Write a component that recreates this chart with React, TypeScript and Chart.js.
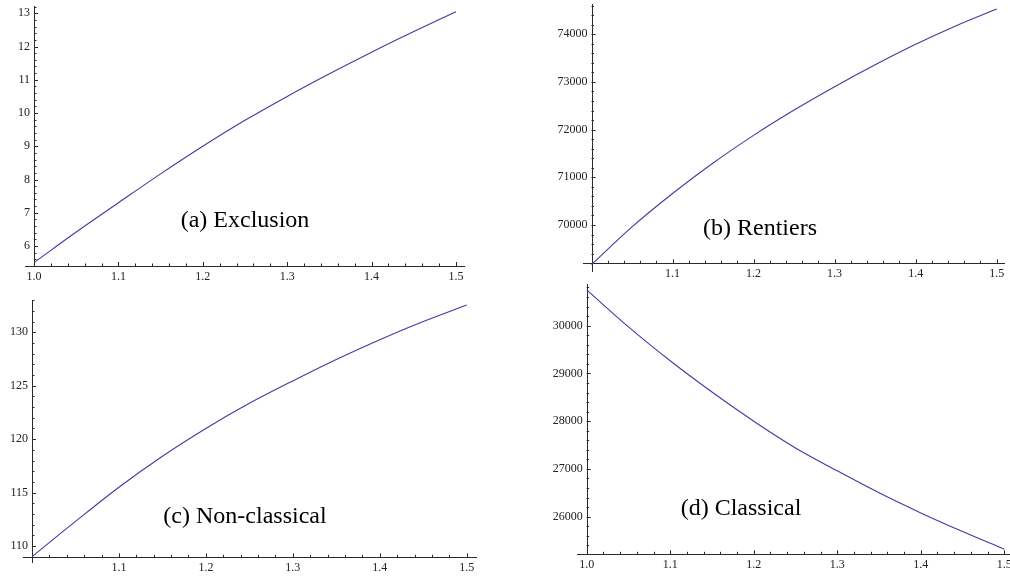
import React, { useEffect, useRef } from "react";
import { Chart, registerables } from "chart.js";

Chart.register(...registerables);

// ---- data ----
const xValues = [1.0, 1.05, 1.1, 1.15, 1.2, 1.25, 1.3, 1.35, 1.4, 1.45, 1.5];
const exclusion = [5.5, 6.42, 7.3, 8.17, 9.0, 9.78, 10.5, 11.18, 11.83, 12.45, 13.05];
const rentiers = [69170, 69960, 70660, 71300, 71880, 72410, 72900, 73360, 73790, 74180, 74530];
const nonClassical = [109.0, 112.3, 115.5, 118.4, 121.0, 123.35, 125.45, 127.45, 129.3, 131.0, 132.55];
const classical = [30750, 29975, 29265, 28610, 28000, 27440, 26960, 26500, 26080, 25690, 25320];

const xTickLabels = ["1.0", "1.1", "1.2", "1.3", "1.4", "1.5"];
const yTicksA = [6, 7, 8, 9, 10, 11, 12, 13];
const yTicksB = [70000, 71000, 72000, 73000, 74000];
const yTicksC = [110, 115, 120, 125, 130];
const yTicksD = [26000, 27000, 28000, 29000, 30000];

const panelTitles = ["(a) Exclusion", "(b) Rentiers", "(c) Non-classical", "(d) Classical"];

// ---- layout / style ----
const W = 1010;
const H = 579;
const LINE_COLOR = "#3d3da3";
const AXIS_COLOR = "#2a2a2a";
const SERIF = '"Liberation Serif", "Times New Roman", serif';

type Panel = {
  title: string;
  values: number[];
  area: { left: number; top: number; right: number; bottom: number };
  xMin: number;
  xMax: number;
  yMin: number;
  yMax: number;
  yCross: number;
  yTicks: number[];
  yMinor: number;
  showX0: boolean;
  titlePos: { x: number; y: number };
};

const panels: Panel[] = [
  {
    title: panelTitles[0],
    values: exclusion,
    area: { left: 25, top: 6, right: 465, bottom: 266 },
    xMin: 0.98934,
    xMax: 1.51066,
    yMin: 5.398,
    yMax: 13.22,
    yCross: 5.398,
    yTicks: yTicksA,
    yMinor: 0.2,
    showX0: true,
    titlePos: { x: 245, y: 221 },
  },
  {
    title: panelTitles[1],
    values: rentiers,
    area: { left: 583, top: 4, right: 1005, bottom: 272 },
    xMin: 0.98951,
    xMax: 1.51024,
    yMin: 69014,
    yMax: 74635,
    yCross: 69196,
    yTicks: yTicksB,
    yMinor: 200,
    showX0: false,
    titlePos: { x: 760, y: 229 },
  },
  {
    title: panelTitles[2],
    values: nonClassical,
    area: { left: 23, top: 300, right: 477, bottom: 563 },
    xMin: 0.98965,
    xMax: 1.51185,
    yMin: 108.41,
    yMax: 133.02,
    yCross: 108.94,
    yTicks: yTicksC,
    yMinor: 1,
    showX0: false,
    titlePos: { x: 245, y: 517 },
  },
  {
    title: panelTitles[3],
    values: classical,
    area: { left: 577, top: 284, right: 1010, bottom: 554.3 },
    xMin: 0.98839,
    xMax: 1.50682,
    yMin: 25212.6,
    yMax: 30873,
    yCross: 25212.6,
    yTicks: yTicksD,
    yMinor: 200,
    showX0: true,
    titlePos: { x: 741, y: 509 },
  },
];

function makeAxesPlugin(p: Panel) {
  return {
    id: "mathAxes",
    beforeDatasetsDraw(chart: any) {
      const ctx: CanvasRenderingContext2D = chart.ctx;
      const xs = chart.scales.x;
      const ys = chart.scales.y;
      const ca = chart.chartArea;
      const ox = xs.getPixelForValue(1.0);
      const oy = ys.getPixelForValue(p.yCross);
      ctx.save();
      ctx.strokeStyle = AXIS_COLOR;
      ctx.lineWidth = 1;
      // axes lines
      ctx.beginPath();
      ctx.moveTo(ca.left, Math.round(oy) + 0.5);
      ctx.lineTo(ca.right, Math.round(oy) + 0.5);
      ctx.moveTo(Math.round(ox) + 0.5, ca.top);
      ctx.lineTo(Math.round(ox) + 0.5, ca.bottom);
      ctx.stroke();

      // x ticks
      ctx.beginPath();
      for (let i = 0; i <= 25; i++) {
        const v = 1.0 + i * 0.02;
        const px = Math.round(xs.getPixelForValue(v)) + 0.5;
        const len = i % 5 === 0 ? 4 : 2.5;
        ctx.moveTo(px, oy);
        ctx.lineTo(px, oy - len);
      }
      // y ticks
      const startMinor = Math.ceil(p.yMin / p.yMinor) * p.yMinor;
      for (let v = startMinor; v <= p.yMax + 1e-9; v += p.yMinor) {
        const py = Math.round(ys.getPixelForValue(v)) + 0.5;
        if (py > ca.bottom || py < ca.top) continue;
        const major = p.yTicks.some((t) => Math.abs(t - v) < p.yMinor / 10);
        const len = major ? 4 : 2.5;
        ctx.moveTo(ox, py);
        ctx.lineTo(ox + len, py);
      }
      ctx.stroke();

      // labels
      ctx.fillStyle = "#222";
      ctx.font = `12px ${SERIF}`;
      ctx.textAlign = "center";
      ctx.textBaseline = "middle";
      xTickLabels.forEach((lbl, i) => {
        if (i === 0 && !p.showX0) return;
        const v = parseFloat(lbl);
        ctx.fillText(lbl, xs.getPixelForValue(v), oy + 11);
      });
      ctx.textAlign = "right";
      p.yTicks.forEach((t) => {
        ctx.fillText(String(t), ox - 4, ys.getPixelForValue(t));
      });

      ctx.restore();
    },
    afterDraw(chart: any) {
      const ctx: CanvasRenderingContext2D = chart.ctx;
      ctx.save();
      ctx.fillStyle = "#000";
      ctx.font = `24px ${SERIF}`;
      ctx.textAlign = "center";
      ctx.textBaseline = "middle";
      ctx.fillText(p.title, p.titlePos.x, p.titlePos.y);
      ctx.restore();
    },
  };
}

function PanelChart({ p }: { p: Panel }) {
  const ref = useRef<HTMLCanvasElement | null>(null);
  useEffect(() => {
    if (!ref.current) return;
    const chart = new Chart(ref.current, {
      type: "line",
      data: {
        datasets: [
          {
            data: xValues.map((x, i) => ({ x, y: p.values[i] })),
            borderColor: LINE_COLOR,
            borderWidth: 1.1,
            pointRadius: 0,
            fill: false,
            cubicInterpolationMode: "monotone",
            clip: false as any,
          },
        ],
      },
      options: {
        animation: false,
        responsive: false,
        devicePixelRatio: 1,
        events: [],
        layout: {
          padding: {
            left: p.area.left,
            top: p.area.top,
            right: W - p.area.right,
            bottom: H - p.area.bottom,
          },
        },
        plugins: {
          legend: { display: false },
          tooltip: { enabled: false },
          title: { display: false },
        },
        scales: {
          x: { type: "linear", min: p.xMin, max: p.xMax, display: false },
          y: { type: "linear", min: p.yMin, max: p.yMax, display: false },
        },
      },
      plugins: [makeAxesPlugin(p)],
    } as any);
    return () => chart.destroy();
  }, [p]);
  return (
    <canvas
      ref={ref}
      width={W}
      height={H}
      style={{ position: "absolute", left: 0, top: 0, width: W, height: H }}
    />
  );
}

export default function App() {
  return (
    <div
      style={{
        position: "fixed",
        left: 0,
        top: 0,
        width: W,
        height: H,
        background: "#fff",
        overflow: "hidden",
      }}
    >
      {panels.map((p, i) => (
        <PanelChart key={i} p={p} />
      ))}
    </div>
  );
}
